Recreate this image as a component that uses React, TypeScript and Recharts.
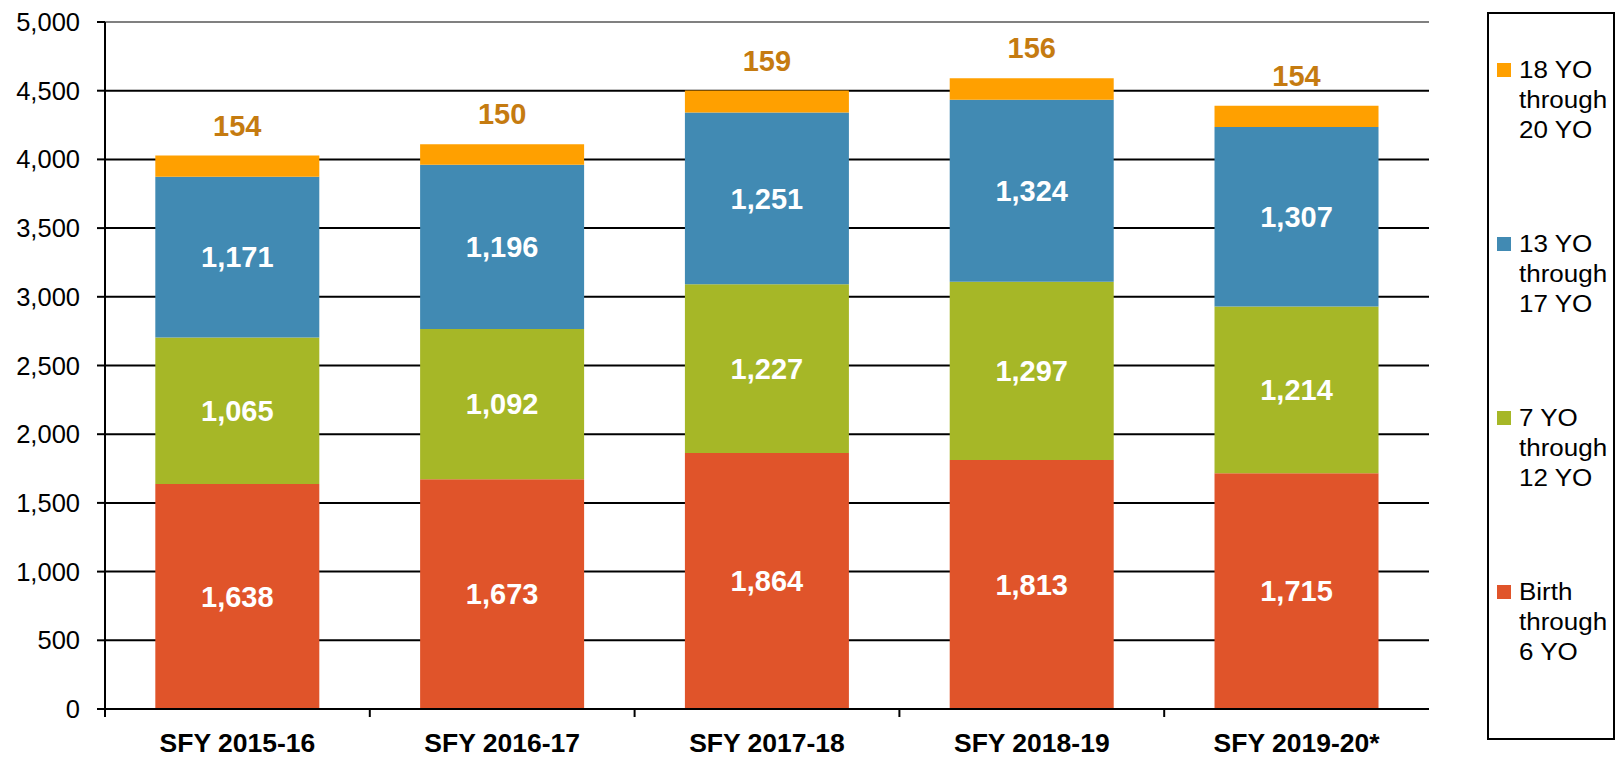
import React from "react";
import { BarChart, Bar, XAxis, YAxis, CartesianGrid, LabelList, ReferenceLine } from "recharts";

const categories = ["SFY 2015-16", "SFY 2016-17", "SFY 2017-18", "SFY 2018-19", "SFY 2019-20*"];
const birthTo6 = [1638, 1673, 1864, 1813, 1715];
const age7To12 = [1065, 1092, 1227, 1297, 1214];
const age13To17 = [1171, 1196, 1251, 1324, 1307];
const age18To20 = [154, 150, 159, 156, 154];
const yTicks = [0, 500, 1000, 1500, 2000, 2500, 3000, 3500, 4000, 4500, 5000];

const series = [
  { key: "birth", name: "Birth\nthrough\n6 YO", color: "#E0542A" },
  { key: "a7", name: "7 YO\nthrough\n12 YO", color: "#A6B727" },
  { key: "a13", name: "13 YO\nthrough\n17 YO", color: "#418AB3" },
  { key: "a18", name: "18 YO\nthrough\n20 YO", color: "#FFA000" },
];

const data = categories.map((c, i) => ({
  cat: c,
  birth: birthTo6[i],
  a7: age7To12[i],
  a13: age13To17[i],
  a18: age18To20[i],
}));

const FONT = "'Liberation Sans', Arial, sans-serif";
const W = 1617;
const H = 759;
const M = { top: 22, right: 188, bottom: 0, left: 0 };
const Y_W = 105;
const BAND = (W - M.right - Y_W) / categories.length;

const fmt = (v: any) => Number(v).toLocaleString("en-US");

const XTick = (props: any) => {
  const { x, y, payload } = props;
  return (
    <g>
      <line x1={x - BAND / 2} x2={x - BAND / 2} y1={y} y2={y + 8} stroke="#000" strokeWidth={2} />
      <text x={x} y={y + 43} textAnchor="middle" fontFamily={FONT} fontSize={26.5} fontWeight="bold" fill="#000">
        {payload.value}
      </text>
    </g>
  );
};

export default function App() {
  return (
    <div style={{ position: "absolute", left: 0, top: 0, width: W, height: H, background: "#fff" }}>
      <BarChart width={W} height={H} data={data} margin={M} barCategoryGap="19%">
        <CartesianGrid yAxisId="left" vertical={false} stroke="#000" strokeWidth={2} />
        <XAxis
          dataKey="cat"
          height={50}
          tickSize={0}
          tickMargin={0}
          tickLine={false}
          axisLine={{ stroke: "#000", strokeWidth: 2 }}
          tick={<XTick />}
          interval={0}
        />
        <YAxis
          yAxisId="left"
          width={Y_W}
          domain={[0, 5000]}
          ticks={yTicks}
          interval={0}
          tickFormatter={fmt}
          tickSize={8}
          tickMargin={17}
          tickLine={{ stroke: "#000", strokeWidth: 2 }}
          axisLine={{ stroke: "#000", strokeWidth: 2 }}
          tick={{ fill: "#000", fontSize: 25.5, fontFamily: FONT }}
        />
        <YAxis
          yAxisId="right"
          orientation="right"
          width={0}
          domain={[0, 5000]}
          tick={false}
          tickLine={false}
          axisLine={{ stroke: "#808080", strokeWidth: 2 }}
        />
        <ReferenceLine yAxisId="left" y={5000} stroke="#808080" strokeWidth={2} />
        {series.map((s, i) => (
          <Bar key={s.key} yAxisId="left" dataKey={s.key} stackId="a" fill={s.color} isAnimationActive={false}>
            {i < 3 ? (
              <LabelList
                dataKey={s.key}
                position="center"
                formatter={fmt}
                fill="#fff"
                fontSize={29}
                fontWeight="bold"
                fontFamily={FONT}
              />
            ) : (
              <LabelList
                dataKey={s.key}
                position="top"
                offset={20}
                formatter={fmt}
                fill="#C57B10"
                fontSize={29}
                fontWeight="bold"
                fontFamily={FONT}
              />
            )}
          </Bar>
        ))}
      </BarChart>
      <div
        style={{
          position: "absolute",
          left: 1487,
          top: 12,
          width: 124,
          height: 724,
          border: "2px solid #000",
        }}
      />
      {[...series].reverse().map((s, i) => (
        <div key={s.key}>
          <div
            style={{
              position: "absolute",
              left: 1497,
              top: 63 + i * 174,
              width: 14,
              height: 14,
              background: s.color,
            }}
          />
          <div
            style={{
              position: "absolute",
              left: 1519,
              top: 55 + i * 174,
              fontFamily: FONT,
              fontSize: 23,
              lineHeight: "30px",
              whiteSpace: "pre",
              color: "#000",
              transform: "scaleX(1.13)",
              transformOrigin: "left top",
            }}
          >
            {s.name}
          </div>
        </div>
      ))}
    </div>
  );
}
